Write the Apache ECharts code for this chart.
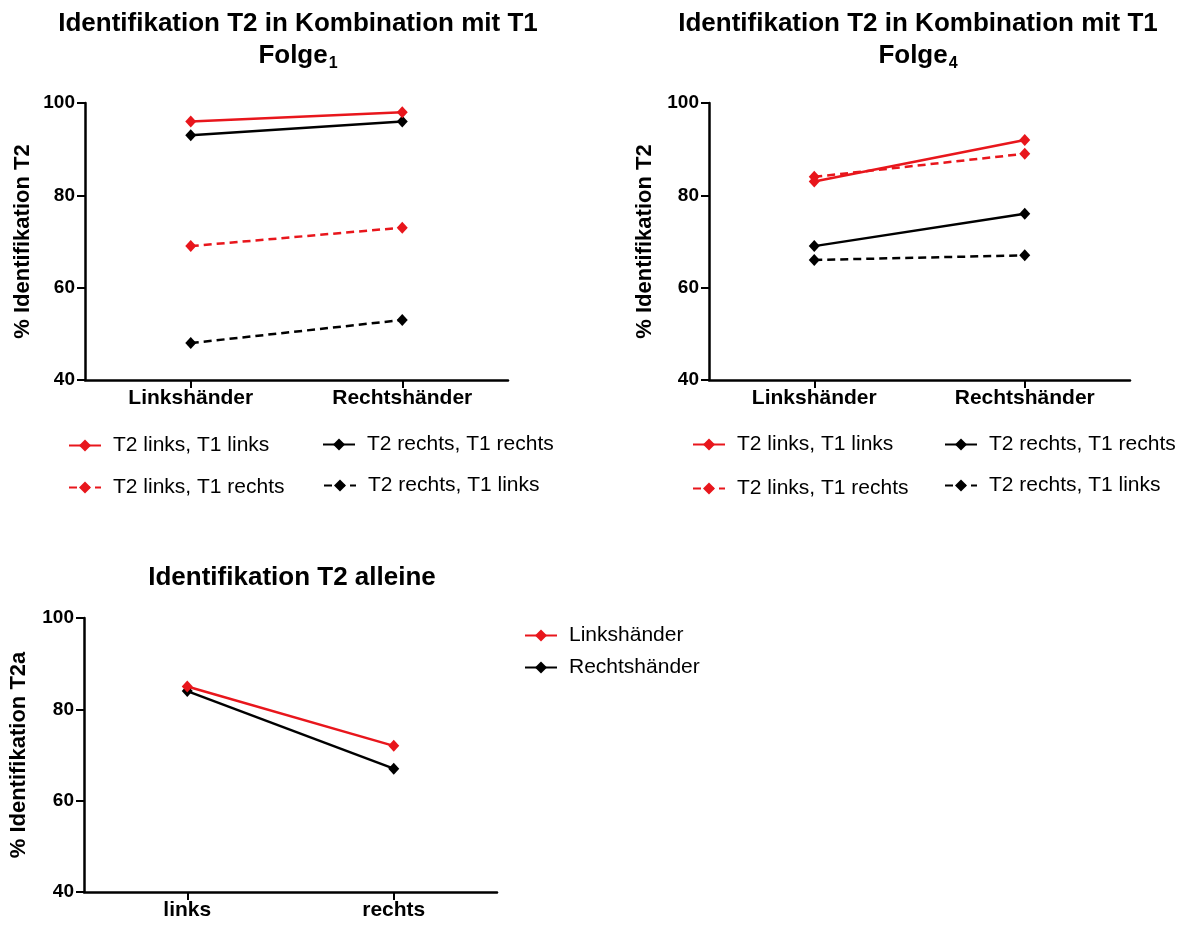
<!DOCTYPE html>
<html>
<head>
<meta charset="utf-8">
<script src="https://cdn.jsdelivr.net/npm/echarts@6/dist/echarts.min.js"></script>
<style>html,body{margin:0;padding:0;background:#fff;}#c{width:1184px;height:926px;}</style>
</head>
<body>
<div id="c"></div>
<script>
// ---- data ----
const handCategories = ['Linkshänder', 'Rechtshänder'];
const sideCategories = ['links', 'rechts'];
const yTicks = [40, 60, 80, 100];

const comboNames = ['T2 links, T1 links', 'T2 rechts, T1 rechts', 'T2 links, T1 rechts', 'T2 rechts, T1 links'];
// Folge 1
const f1_T2lT1l = [96, 98];
const f1_T2rT1r = [93, 96];
const f1_T2lT1r = [69, 73];
const f1_T2rT1l = [48, 53];
// Folge 4
const f4_T2lT1l = [83, 92];
const f4_T2rT1r = [69, 76];
const f4_T2lT1r = [84, 89];
const f4_T2rT1l = [66, 67];
// T2 alleine
const aloneNames = ['Linkshänder', 'Rechtshänder'];
const alone_links = [85, 72];
const alone_rechts = [84, 67];

// ---- styling ----
const FONT = "'Liberation Sans', Arial, sans-serif";
const RED = '#e8161c';
const BLACK = '#000000';
const DASH = [8, 5];

const chart = echarts.init(document.getElementById('c'), null, {renderer: 'canvas'});

function titleObj(text, cx, top) {
  return {
    text: text, left: cx, top: top, textAlign: 'center', padding: 0,
    textStyle: {
      fontFamily: FONT,
      rich: {
        a: {fontSize: 26, fontWeight: 'bold', color: '#000', fontFamily: FONT, lineHeight: 32},
        s: {fontSize: 16, fontWeight: 'bold', color: '#000', fontFamily: FONT, lineHeight: 32, verticalAlign: 'bottom', padding: [8, 0, 0, 1]}
      }
    }
  };
}

function yAxisObj(gi, name, gap) {
  return {
    type: 'value', gridIndex: gi, min: yTicks[0], max: yTicks[yTicks.length - 1], interval: 20,
    name: name, nameLocation: 'middle', nameGap: gap, nameRotate: 90,
    nameTextStyle: {fontFamily: FONT, fontWeight: 'bold', fontSize: 22, color: '#000'},
    axisLine: {show: true, lineStyle: {color: '#000', width: 2.5}},
    axisTick: {show: true, length: 8, lineStyle: {color: '#000', width: 2}},
    axisLabel: {fontFamily: FONT, fontWeight: 'bold', fontSize: 19, color: '#000', margin: 10},
    splitLine: {show: false}
  };
}

function xAxisObj(gi, cats) {
  return {
    type: 'category', gridIndex: gi, data: cats, boundaryGap: true,
    axisLine: {show: true, lineStyle: {color: '#000', width: 2.5}},
    axisTick: {show: true, alignWithLabel: true, length: 8, lineStyle: {color: '#000', width: 2}},
    axisLabel: {fontFamily: FONT, fontWeight: 'bold', fontSize: 21, color: '#000', margin: 8},
    splitLine: {show: false}
  };
}

function lineSeries(name, data, color, dashed, gi) {
  return {
    type: 'line', name: name, data: data, xAxisIndex: gi, yAxisIndex: gi,
    symbol: 'diamond', symbolSize: [11, 12], showSymbol: true,
    lineStyle: {color: color, width: 2.5, type: dashed ? DASH : 'solid'},
    itemStyle: {color: color},
    emphasis: {disabled: true},
    animation: false
  };
}

function legendObj(name, left, cy) {
  return {
    data: [name], left: left, top: cy - 12, padding: 0, orient: 'horizontal',
    itemWidth: 32, itemHeight: 15, selectedMode: false,
    textStyle: {fontFamily: FONT, fontSize: 21, color: '#000', padding: [0, 0, 0, 7]}
  };
}

const option = {
  backgroundColor: '#ffffff',
  animation: false,
  title: [
    titleObj('{a|Identifikation T2 in Kombination mit T1}\n{a|Folge}{s|1}', 298, 8),
    titleObj('{a|Identifikation T2 in Kombination mit T1}\n{a|Folge}{s|4}', 918, 8),
    titleObj('{a|Identifikation T2 alleine}', 292, 562)
  ],
  grid: [
    {left: 85, top: 103, width: 423, height: 277},
    {left: 709, top: 103, width: 421, height: 277},
    {left: 84, top: 618, width: 413, height: 274}
  ],
  xAxis: [xAxisObj(0, handCategories), xAxisObj(1, handCategories), xAxisObj(2, sideCategories)],
  yAxis: [
    yAxisObj(0, '% Identifikation T2', 51),
    yAxisObj(1, '% Identifikation T2', 53),
    yAxisObj(2, '% Identifikation T2a', 54)
  ],
  legend: [
    legendObj(comboNames[0], 68, 447),
    legendObj(comboNames[1], 322, 446),
    legendObj(comboNames[2], 68, 489),
    legendObj(comboNames[3], 323, 487),
    legendObj(comboNames[0], 692, 446),
    legendObj(comboNames[1], 944, 446),
    legendObj(comboNames[2], 692, 490),
    legendObj(comboNames[3], 944, 487),
    legendObj(aloneNames[0], 524, 637),
    legendObj(aloneNames[1], 524, 669)
  ],
  series: [
    lineSeries(comboNames[1], f1_T2rT1r, BLACK, false, 0),
    lineSeries(comboNames[3], f1_T2rT1l, BLACK, true, 0),
    lineSeries(comboNames[2], f1_T2lT1r, RED, true, 0),
    lineSeries(comboNames[0], f1_T2lT1l, RED, false, 0),
    lineSeries(comboNames[1], f4_T2rT1r, BLACK, false, 1),
    lineSeries(comboNames[3], f4_T2rT1l, BLACK, true, 1),
    lineSeries(comboNames[2], f4_T2lT1r, RED, true, 1),
    lineSeries(comboNames[0], f4_T2lT1l, RED, false, 1),
    lineSeries(aloneNames[1], alone_rechts, BLACK, false, 2),
    lineSeries(aloneNames[0], alone_links, RED, false, 2)
  ]
};
chart.setOption(option);
</script>
</body>
</html>
